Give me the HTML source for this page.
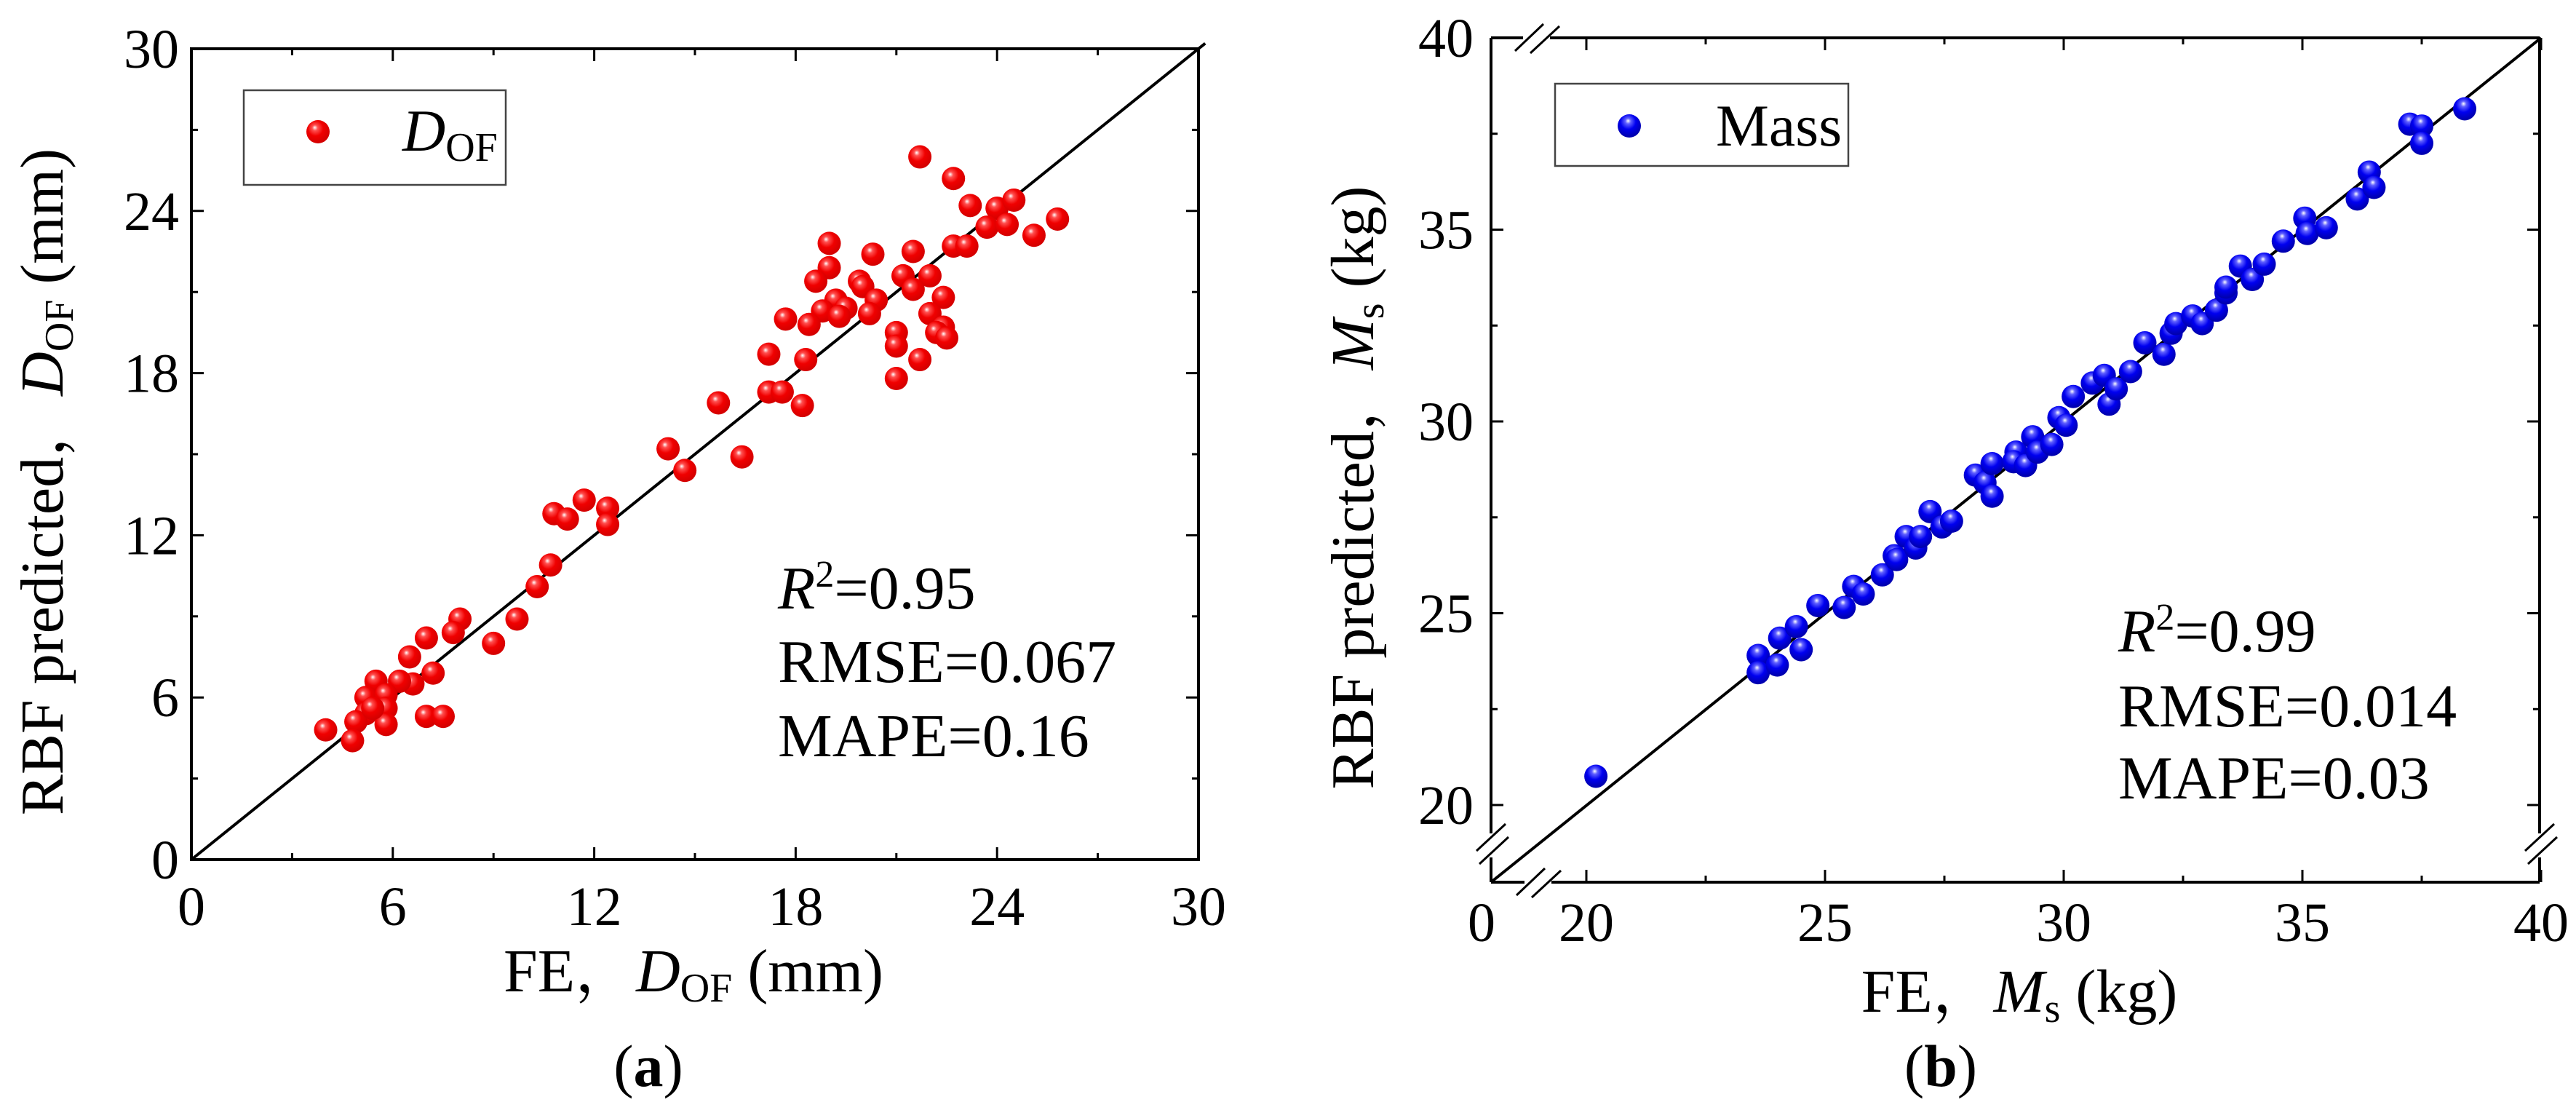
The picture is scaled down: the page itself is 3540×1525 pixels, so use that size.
<!DOCTYPE html>
<html><head><meta charset="utf-8"><style>
html,body{margin:0;padding:0;background:#fff;}
svg{display:block;}
text,tspan{font-family:"Liberation Serif","Noto Serif CJK SC",serif;}
</style></head><body>
<svg id="fig" width="3540" height="1525" viewBox="0 0 3540 1525" xmlns="http://www.w3.org/2000/svg">
<defs>
<radialGradient id="gr" cx="0.42" cy="0.38" r="0.6" fx="0.36" fy="0.32">
<stop offset="0" stop-color="#ffffff"/><stop offset="0.2" stop-color="#ff5050"/><stop offset="0.55" stop-color="#f00000"/><stop offset="1" stop-color="#d40000"/>
</radialGradient>
<radialGradient id="gb" cx="0.45" cy="0.35" r="0.6" fx="0.45" fy="0.28">
<stop offset="0" stop-color="#ffffff"/><stop offset="0.2" stop-color="#6060ff"/><stop offset="0.55" stop-color="#0000f0"/><stop offset="1" stop-color="#0000b0"/>
</radialGradient>
</defs>
<g id="pa"></g>
<g id="pb"></g>
</svg>
<script>
const feA=[21.7,22.7,23.2,24.0,24.5,23.7,24.3,25.8,25.1,22.7,23.1,19.0,20.3,21.5,19.0,18.6,19.9,20.0,21.2,22.0,21.5,22.4,19.2,19.5,18.8,19.3,20.4,20.2,22.0,17.7,18.4,22.4,22.2,22.5,21.0,21.0,17.2,18.3,21.7,21.0,17.2,17.6,18.2,15.7,14.2,14.7,16.4,10.8,11.2,11.7,12.4,12.4,10.7,10.3,9.7,9.0,8.0,7.8,7.0,6.5,7.2,6.6,6.2,5.5,5.2,5.8,5.8,5.2,4.9,5.8,7.0,7.5,4.0,4.8,5.4];
const rbfA=[26.0,25.2,24.2,24.1,24.4,23.4,23.5,23.7,23.1,22.7,22.7,22.8,22.4,22.5,21.9,21.4,21.4,21.2,21.6,21.6,21.1,20.8,20.7,20.4,20.3,20.1,20.7,20.2,20.2,20.0,19.8,19.7,19.5,19.3,19.5,19.0,18.7,18.5,18.5,17.8,17.3,17.3,16.8,16.9,15.2,14.4,14.9,12.8,12.6,13.3,13.0,12.4,10.9,10.1,8.9,8.0,8.9,8.4,8.2,7.5,6.9,6.5,6.6,6.6,6.0,6.1,5.6,5.4,5.1,5.0,5.3,5.3,4.8,4.4,5.6];
const feB=[20.2,23.6,23.6,24.05,24.0,24.4,24.5,24.85,25.4,25.6,25.8,26.2,26.45,26.5,26.7,26.9,27.0,27.2,27.45,27.65,28.15,28.35,28.5,28.5,29.0,28.95,29.2,29.35,29.45,29.75,29.9,30.05,30.2,30.6,30.85,30.95,31.1,31.4,31.7,32.1,32.25,32.35,32.7,32.9,33.2,33.4,33.4,33.7,33.95,34.2,34.6,35.05,35.1,35.5,36.15,36.4,36.5,37.25,37.5,37.5,38.4];
const rbfB=[20.75,23.9,23.45,24.35,23.65,24.65,24.05,25.2,25.15,25.7,25.5,26.0,26.5,26.4,27.0,26.7,27.0,27.65,27.25,27.4,28.6,28.4,28.9,28.05,29.2,28.95,28.85,29.6,29.2,29.4,30.1,29.9,30.65,31.0,31.2,30.45,30.85,31.3,32.05,31.75,32.3,32.55,32.75,32.55,32.9,33.35,33.5,34.05,33.7,34.1,34.7,35.3,34.9,35.05,35.8,36.5,36.1,37.75,37.7,37.25,38.15];
const ticksA=[0,6,12,18,24,30];
const ticksB=[20,25,30,35,40];

const NS="http://www.w3.org/2000/svg";
function mk(parent,tag,attrs,txt){const e=document.createElementNS(NS,tag);for(const k in attrs)e.setAttribute(k,attrs[k]);if(txt!==undefined)e.textContent=txt;parent.appendChild(e);return e;}
function line(p,x1,y1,x2,y2,w,name){const e=mk(p,'line',{x1:x1,y1:y1,x2:x2,y2:y2,stroke:'#000','stroke-width':w});

return e;}

// ---------- Panel A ----------
const pa=document.getElementById('pa');
const aL=263,aR=1647,aT=67,aB=1181;
const xA=v=>aL+v/30*(aR-aL), yA=v=>aB-v/30*(aB-aT);
for(let v=0;v<=30;v+=3){const maj=(v%6===0),len=maj?17:9;
line(pa,xA(v),aB,xA(v),aB-len,3,'x-tick');line(pa,xA(v),aT,xA(v),aT+len,3,'x-tick-top');
line(pa,aL,yA(v),aL+len,yA(v),3,'y-tick');line(pa,aR,yA(v),aR-len,yA(v),3,'y-tick-right');}
let r=mk(pa,'rect',{x:aL,y:aT,width:aR-aL,height:aB-aT,fill:'none',stroke:'#000','stroke-width':4});


line(pa,xA(0),yA(0),xA(30.2),yA(30.2),4,'identity-line-a');
ticksA.forEach(v=>{let t=mk(pa,'text',{x:xA(v),y:1271,'font-size':76,'text-anchor':'middle'},v);


t=mk(pa,'text',{x:246,y:yA(v)+26,'font-size':76,'text-anchor':'end'},v);

});
feA.forEach((v,i)=>{const c=mk(pa,'circle',{cx:xA(v),cy:yA(rbfA[i]),r:16,fill:'url(#gr)'});

});

// ---------- Panel B ----------
const pb=document.getElementById('pb');
const bL=2049,bR=3490,bT=52,bB=1212;
const xB=v=>2180+(v-20)*65.6, yB=v=>1106-(v-20)*52.7;
for(let v=20;v<=40;v+=2.5){const maj=(v%5===0),len=maj?17:9;
line(pb,xB(v),bB,xB(v),bB-len,3,'x-tick');line(pb,xB(v),bT,xB(v),bT+len,3,'x-tick-top');
line(pb,bL,yB(v),bL+len,yB(v),3,'y-tick');line(pb,bR,yB(v),bR-len,yB(v),3,'y-tick-right');}
line(pb,bL,bT,bL,1145,4,'left-axis');line(pb,bL,1178,bL,bB,4,'left-axis');
line(pb,bR,bT,bR,1145,4,'right-axis');line(pb,bR,1178,bR,bB,4,'right-axis');
line(pb,bL,bB,2095,bB,4,'bottom-axis');line(pb,2132,bB,bR,bB,4,'bottom-axis');
line(pb,bL,bT,2093,bT,4,'top-axis');line(pb,2130,bT,bR,bT,4,'top-axis');
[[bL,1160],[bR,1160]].forEach(([x,y])=>{line(pb,x-20,y+9,x+20,y-28,3,'axis-break');line(pb,x-16,y+27,x+24,y-10,3,'axis-break');});
[[2103,bB],[2101,bT]].forEach(([x,y])=>{line(pb,x-19,y+18,x+20,y-19,3,'axis-break');line(pb,x+2,y+21,x+42,y-16,3,'axis-break');});
line(pb,bL,bB,xB(40),yB(40),4,'identity-line-b');
ticksB.forEach(v=>{let t=mk(pb,'text',{x:xB(v),y:1293,'font-size':76,'text-anchor':'middle'},v);


t=mk(pb,'text',{x:2025,y:yB(v)+26,'font-size':76,'text-anchor':'end'},v);

});
let z=mk(pb,'text',{x:2036,y:1293,'font-size':76,'text-anchor':'middle'},'0');


feB.forEach((v,i)=>{const c=mk(pb,'circle',{cx:xB(v),cy:yB(rbfB[i]),r:16,fill:'url(#gb)'});

});
</script>
<svg width="3540" height="1525" style="position:absolute;left:0;top:0" xmlns="http://www.w3.org/2000/svg">
<g>
<rect x="335" y="124" width="360" height="130" fill="#fff" stroke="#444" stroke-width="2.5"/>
<circle cx="437" cy="181" r="16" fill="url(#gr)"/>
<text x="553" y="207" font-size="82"><tspan font-style="italic">D</tspan><tspan font-size="56" dy="14">OF</tspan></text>
</g>
<g>
<rect x="2137" y="115" width="403" height="113" fill="#fff" stroke="#444" stroke-width="2.5"/>
<circle cx="2239" cy="173" r="16" fill="url(#gb)"/>
<text x="2358" y="200" font-size="82">Mass</text>
</g>
<g font-size="84">
<text x="1069" y="836"><tspan font-style="italic">R</tspan><tspan font-size="52" dy="-30">2</tspan><tspan dy="30">=0.95</tspan></text>
<text x="1069" y="937">RMSE=0.067</text>
<text x="1069" y="1039">MAPE=0.16</text>
</g>
<g font-size="84">
<text x="2911" y="895"><tspan font-style="italic">R</tspan><tspan font-size="52" dy="-30">2</tspan><tspan dy="30">=0.99</tspan></text>
<text x="2911" y="998">RMSE=0.014</text>
<text x="2911" y="1097">MAPE=0.03</text>
</g>
<text x="953" y="1362" font-size="84" text-anchor="middle">FE，<tspan font-style="italic">D</tspan><tspan font-size="56" dy="14">OF</tspan><tspan dy="-14"> (mm)</tspan></text>
<text transform="translate(86,662) rotate(-90)" font-size="84" text-anchor="middle">RBF predicted，<tspan font-style="italic">D</tspan><tspan font-size="56" dy="14">OF</tspan><tspan dy="-14"> (mm)</tspan></text>
<text x="2775" y="1390" font-size="84" text-anchor="middle">FE，<tspan font-style="italic">M</tspan><tspan font-size="56" dy="14">s</tspan><tspan dy="-14"> (kg)</tspan></text>
<text transform="translate(1887,670) rotate(-90)" font-size="84" text-anchor="middle">RBF predicted，<tspan font-style="italic">M</tspan><tspan font-size="56" dy="14">s</tspan><tspan dy="-14"> (kg)</tspan></text>
<text x="891" y="1492" font-size="82" text-anchor="middle">(<tspan font-weight="bold">a</tspan>)</text>
<text x="2667" y="1492" font-size="82" text-anchor="middle">(<tspan font-weight="bold">b</tspan>)</text>
</svg>
</body></html>
